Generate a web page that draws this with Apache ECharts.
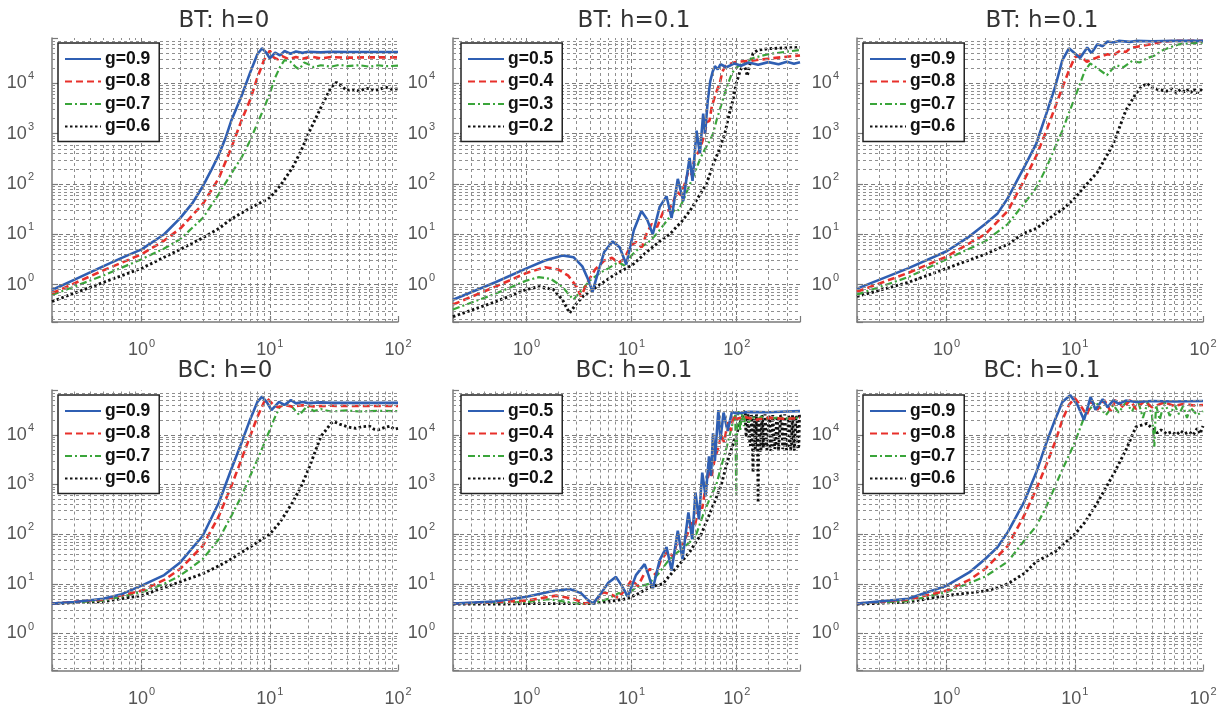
<!DOCTYPE html>
<html><head><meta charset="utf-8">
<script src="https://cdn.jsdelivr.net/npm/echarts@6/dist/echarts.min.js"></script>
<style>html,body{margin:0;padding:0;background:#fff}#c{width:1225px;height:708px}</style>
</head><body><div id="c"></div>
<script>
// ---------- panel titles / legends ----------
const titles = ['BT: h=0', 'BT: h=0.1', 'BT: h=0.1', 'BC: h=0', 'BC: h=0.1', 'BC: h=0.1'];
const namesHigh = ['g=0.9', 'g=0.8', 'g=0.7', 'g=0.6'];
const namesLow = ['g=0.5', 'g=0.4', 'g=0.3', 'g=0.2'];
const xMaxs = [100, 400, 100, 100, 400, 100];
const yMin = 0.18, yMax = 80000, xMin = 0.2;

// ---------- BT: h=0 ----------
const bt0_g09 = [[0.2,0.78],[0.3,1.25],[0.5,2.3],[0.7,3.4],[1,5.0],[1.5,10],[2,21],[2.5,42],[3,90],[3.5,190],[4,380],[4.5,800],[5,1800],[6,5500],[7,16000],[8,38000],[8.7,50000],[9.3,42000],[10,31600],[11,41000],[12,36000],[13,44000],[14.5,39000],[16,43000],[18,40500],[20,42500],[25,41500],[30,42500],[40,42000],[60,42000],[100,42000]];
const bt0_g08 = [[0.2,0.67],[0.5,1.9],[1,4],[1.5,7.5],[2,13],[3,40],[4,130],[5,520],[6,1800],[7,4600],[8,13000],[9,29000],[10,45000],[10.7,33000],[11.5,30000],[12.5,35000],[14,30500],[16,33500],[18,31000],[21,34000],[25,31500],[30,33500],[40,32500],[60,33000],[100,33000]];
const bt0_g07 = [[0.2,0.62],[0.5,1.5],[1,3.2],[1.5,5.2],[2,8],[3,21],[4,63],[5,160],[6,330],[7,720],[8,1600],[9,3200],[10,6300],[11,13000],[12,21000],[13,29000],[14.5,27000],[16,21000],[17,19000],[18.5,26000],[20,24000],[22,21000],[25,23000],[30,21500],[35,23500],[40,22000],[50,23000],[60,21500],[70,23000],[80,22000],[100,22500]];
const bt0_g06 = [[0.2,0.46],[0.5,1.1],[1,2.1],[2,5],[3,8.5],[4,13],[5,20],[7,33],[10,53],[12,91],[15,210],[17.5,450],[20,1000],[25,3300],[30,8300],[33,10500],[36,9000],[40,7200],[45,7600],[50,7000],[55,7800],[60,8000],[65,7300],[70,7500],[80,8400],[90,7600],[100,7800]];

// ---------- BT: h=0.1 (g=0.5..0.2) ----------
const bt1a_g05 = [[0.2,0.5],[0.5,1.1],[1,2.1],[1.5,3],[2.2,3.8],[2.8,3.5],[3.4,2.3],[3.9,1.2],[4.25,0.72],[4.7,1.5],[5.5,4.5],[6.6,7.2],[7.7,5.5],[8.9,2.5],[10.5,12],[12.4,29],[14,20],[15.9,10],[18.5,35],[21.5,57],[24,21],[27.5,126],[31,46],[35.6,330],[38,115],[41.5,1150],[44.6,400],[48,2500],[50,1000],[53,4500],[56,11000],[59,17000],[62,22000],[66,19000],[70,24000],[80,21000],[95,25000],[110,22500],[130,26000],[160,23500],[200,26500],[250,24000],[300,27000],[350,24500],[400,26500]];
const bt1a_g04 = [[0.2,0.4],[0.5,0.9],[1,1.7],[1.5,2.2],[2,2.0],[2.5,1.5],[3,0.9],[3.3,0.58],[3.8,1.1],[4.5,2],[5.5,3],[6.5,3.4],[7.5,2.7],[8.5,3.2],[9.8,6],[11,7],[12.5,5.5],[13.8,10],[15.5,16],[17.5,14],[20,28],[22.5,30],[25,45],[27,70],[29.5,60],[32,100],[34.5,170],[37,150],[40,350],[43,420],[46,600],[49.6,1000],[52,1700],[55,1800],[58,3500],[62,5500],[66,8000],[69,10000],[73,17000],[78,22000],[85,24000],[100,27000],[130,28000],[200,31000],[300,34000],[400,36000]];
const bt1a_g03 = [[0.2,0.32],[0.5,0.65],[1,1.2],[1.3,1.4],[1.7,1.3],[2.2,0.9],[2.8,0.5],[3.3,0.75],[4,1.2],[5,1.7],[6,2.1],[7.5,2.8],[8.5,2.4],[10,3.8],[12,5.5],[14,6.5],[17.2,10],[20,15],[23,22],[26,32],[28,30],[32,55],[36,100],[40,170],[45,320],[50,500],[55,700],[59.5,1000],[65,2000],[72,4000],[78,7000],[83,10000],[90,16000],[100,21000],[120,27000],[150,33000],[200,38000],[300,43000],[400,46000]];
const bt1a_g02 = [[0.2,0.23],[0.5,0.45],[1,0.8],[1.33,0.91],[1.8,0.8],[2.2,0.5],[2.57,0.27],[3,0.42],[3.5,0.6],[5,1],[7,1.6],[10.3,2.5],[14,4.5],[18.5,7.2],[23,10],[30,18],[35.8,29],[42,50],[51.5,100],[60,250],[70,550],[77,1000],[85,2500],[92,4600],[99,10000],[107,17000],[115,24000],[122,19000],[126,14000],[132,22000],[143,40000],[160,46000],[200,49000],[300,51000],[400,52000]];

// ---------- BT: h=0.1 (g=0.9..0.6) ----------
const bt1b_g09 = [[0.2,0.83],[0.5,2.1],[1,4.6],[1.5,9],[2,16],[2.5,26],[3,52],[3.5,110],[4,210],[5,630],[6,2500],[7,8300],[8,29000],[9,50000],[11,32000],[12.5,52000],[13.5,40000],[15,60000],[16.5,55000],[18,68000],[20,65000],[22,70000],[27,67000],[30,70000],[40,69000],[60,70000],[100,70000]];
const bt1b_g08 = [[0.2,0.72],[0.5,1.7],[1,3.6],[2,10],[3,29],[4,115],[5,360],[6,1150],[7,3300],[8,8300],[9,18000],[10,33000],[11,36000],[12.4,27000],[15,33000],[18,38000],[20,36000],[22.6,45000],[25,42000],[27,50000],[32,55000],[39,60000],[48,68000],[60,70000],[100,70000]];
const bt1b_g07 = [[0.2,0.63],[0.5,1.4],[1,3.2],[2,7.2],[3,16],[4,40],[5,83],[6,210],[7,530],[8,1150],[9,2600],[10,5200],[11,10000],[12,18000],[13.2,25000],[15,20000],[17.8,14500],[19.5,19000],[21,23000],[24,21000],[28,28000],[32,26000],[37,32000],[42,36000],[48,45000],[55,52000],[65,60000],[80,63000],[100,65000]];
const bt1b_g06 = [[0.2,0.58],[0.5,1.1],[1,2.1],[2,4],[3,6.3],[4,10.5],[5,13],[7,25],[8,31],[10,52],[12,91],[15,170],[20,630],[25,2900],[30,6300],[33,8500],[36.6,10000],[40,8200],[44,7600],[47,7400],[52,7000],[57,7800],[62,6600],[67,7600],[72,6800],[75,7400],[80,6500],[85,7800],[90,6400],[95,7500],[100,7000]];

// ---------- BC: h=0 ----------
const bc0_g09 = [[0.2,4],[0.3,4.3],[0.5,5],[0.7,6.2],[1,9.2],[1.5,15],[2,27],[3,93],[4,430],[5,2000],[6,6800],[7,20000],[8,46000],[8.7,59000],[9.5,45000],[10.3,31600],[11.8,46000],[13,40000],[14.6,50000],[16,43000],[18,46000],[20,43500],[25,45000],[30,44000],[50,44000],[100,44000]];
const bc0_g08 = [[0.2,4],[0.5,4.8],[1,7.3],[1.5,12],[2,20],[3,58],[4,230],[5,920],[6,3160],[7,9200],[8,23000],[9,45000],[9.5,55000],[10.5,42000],[11.5,36000],[13,40000],[15,37000],[18,39500],[22,37500],[30,38500],[50,38000],[100,38000]];
const bc0_g07 = [[0.2,4],[0.5,4.6],[1,6.8],[1.5,10],[2,14.7],[3,31.6],[4,79],[5,230],[6,580],[7,1450],[8,3160],[9,6500],[10,12600],[11,23000],[12,37000],[13.5,44000],[15,36000],[17,25000],[19.6,38000],[22,30000],[25,33000],[30,29500],[40,31000],[50,29500],[70,30500],[100,30000]];
const bc0_g06 = [[0.2,4],[0.5,4.4],[1,5.8],[2,11],[3,16],[4,23],[5,31.6],[7,55],[10,100],[12,174],[15,430],[17.5,900],[20,2000],[25,9200],[30,17000],[31.5,18500],[35,16500],[39,15000],[43,14000],[47,13500],[52,14500],[60,15000],[65,13000],[70,12600],[78,14000],[87,15000],[93,13000],[100,13500]];

// ---------- BC: h=0.1 (g=0.5..0.2) ----------
const bc1a_g05 = [[0.2,4],[0.5,4.4],[1,5.5],[1.7,7],[2.57,7.9],[3.3,6.5],[3.8,4.8],[4.3,4],[5,6],[6,10.5],[7.1,13.8],[8.1,9],[9.2,5.5],[11,15],[13.3,25],[14.5,15],[15.9,7.9],[18.5,30],[21.5,55],[24,18.5],[27.5,117],[30.5,31.6],[34.7,275],[37.7,79],[40.5,690],[43.7,200],[47,1740],[50.6,580],[54.5,3700],[57,1500],[59.5,10800],[62,3000],[66.9,31600],[70,8000],[75,28000],[82,12000],[90,29000],[100,27000],[130,29000],[200,28500],[300,29500],[400,30000]];
const bc1a_g04 = [[0.2,4],[0.5,4.3],[1,4.6],[1.92,5.8],[2.8,5],[3.6,4],[4.5,4.5],[5.4,6.8],[6.5,6],[7.5,5.2],[8.8,8],[10,12],[11.5,9],[13,15],[15,20],[17,15],[19,30],[22,45],[25,35],[27,70],[30,60],[34,100],[37,170],[40,150],[44,380],[47,330],[51,1000],[55,1800],[58,1500],[62,3500],[66,5000],[71.5,10000],[76,7000],[82,18000],[88,12000],[93,25000],[100,21000],[120,23000],[150,20000],[200,22000],[300,21000],[400,22000]];
const bc1a_g03 = [[0.2,4],[0.5,4.2],[1,4.3],[1.6,4.9],[2.5,4.3],[3.3,3.9],[4.5,4.2],[6,5],[7.5,6.5],[9,6],[11,8.5],[14.6,10],[18,16],[22,28],[26,40],[30,50],[36,70],[41.3,100],[48,250],[55,500],[64,1000],[72,2500],[80,5500],[86,10000],[92,18000],[97,25000],[99,630],[101,18000],[104,30000],[108,12000],[112,28000],[117,15000],[122,26000],[130,18000],[140,24000],[155,20000],[170,23000],[200,21000],[250,22500],[300,21500],[400,22000]];
const bc1a_g02 = [[0.2,3.9],[0.5,3.9],[1,4],[2,4],[3,4],[4,4],[5,4.2],[7,4.6],[8.9,5],[11,6],[13.8,7.9],[16,9],[19.8,10],[25,18],[30,28],[36,45],[41,70],[46,100],[55,250],[63,500],[71.5,1000],[80,2500],[90,5500],[99,10000],[110,20000],[116,26000],[120,31000],[123,9000],[125,12000],[128,27000],[130,25000],[133,7000],[135,6000],[138,25000],[140,22000],[141.5,6000],[143,1740],[145,24000],[147,20000],[150,5000],[152,8000],[154,26000],[156,24000],[158,6000],[160,430],[162,22000],[164,18000],[167,4500],[170,5000],[173,25000],[176,22000],[179,5500],[182,7000],[186,26000],[190,24000],[194,5000],[198,6000],[202,24000],[206,21000],[210,4800],[215,5500],[220,25000],[225,23000],[230,5200],[235,6500],[240,24000],[245,20000],[250,5000],[256,5000],[262,25000],[268,22000],[274,5200],[280,6000],[286,26000],[292,24000],[298,5000],[305,5500],[311,24000],[318,21000],[325,5000],[332,6500],[339,25000],[346,23000],[353,4800],[360,5000],[367,24000],[375,20000],[382,5200],[390,6000],[395,25000],[400,22000]];

// ---------- BC: h=0.1 (g=0.9..0.6) ----------
const bc1b_g09 = [[0.2,4],[0.5,5],[1,9.2],[1.5,17],[2,31.6],[2.5,55],[3,110],[4,430],[5,1740],[6,6900],[7,20000],[8,46000],[9.2,63000],[10.5,40000],[11.8,20000],[13.3,58000],[14.5,32000],[16.5,52000],[18,36000],[20,50000],[22,42000],[25,49000],[30,46000],[40,48000],[60,47000],[100,48000]];
const bc1b_g08 = [[0.2,4],[0.5,4.8],[1,7.3],[1.5,12],[2,20],[3,58],[4,230],[5,800],[6,2500],[7,7000],[8,20000],[9,40000],[10,55000],[11,40000],[12.4,25000],[13.5,48000],[15,32000],[17,50000],[19,30000],[21,52000],[24,35000],[27,50000],[30,33000],[35,48000],[40,36000],[50,45000],[60,38000],[70,42000],[85,39000],[100,40000]];
const bc1b_g07 = [[0.2,4],[0.5,4.5],[1,6.8],[2,14],[3,28],[4,72],[5,145],[6,360],[7,910],[8,2000],[10,7000],[12,25000],[14.5,46000],[17.5,25000],[20,40000],[22,28000],[25,45000],[28,30000],[31,50000],[34,22000],[37,45000],[40,25000],[41.7,5800],[43,40000],[46,20000],[50,48000],[55,24000],[60,40000],[65,26000],[70,38000],[75,22000],[80,35000],[90,25000],[100,30000]];
const bc1b_g06 = [[0.2,3.9],[0.5,4.3],[1,5.8],[2,7.2],[2.5,8.3],[3,10],[4,16],[5,28],[7,44],[10,100],[12,174],[15,430],[20,1600],[25,4900],[30,14500],[36.6,17000],[40,13500],[44,11000],[47,12600],[52,10500],[57,11500],[62,10000],[67,12000],[72,10500],[78,11500],[84,10000],[90,13500],[95,10500],[100,15000]];

const panelData = [
  [bt0_g09, bt0_g08, bt0_g07, bt0_g06],
  [bt1a_g05, bt1a_g04, bt1a_g03, bt1a_g02],
  [bt1b_g09, bt1b_g08, bt1b_g07, bt1b_g06],
  [bc0_g09, bc0_g08, bc0_g07, bc0_g06],
  [bc1a_g05, bc1a_g04, bc1a_g03, bc1a_g02],
  [bc1b_g09, bc1b_g08, bc1b_g07, bc1b_g06]
];
const panelNames = [namesHigh, namesLow, namesHigh, namesHigh, namesLow, namesHigh];

// ---------- layout & styles ----------
const gridBoxes = [
  {left: 52, top: 38, width: 346, height: 284},
  {left: 453, top: 38, width: 347, height: 284},
  {left: 857, top: 38, width: 346, height: 284},
  {left: 52, top: 390, width: 346, height: 281},
  {left: 453, top: 390, width: 347, height: 281},
  {left: 857, top: 390, width: 346, height: 281}
];
const titlePos = [[224, 10], [634, 10], [1042, 10], [225, 360], [634, 360], [1042, 360]];
const legendPos = [[58, 43], [461, 43], [863, 43], [58, 395], [461, 395], [863, 395]];
const lineStyles = [
  {color: '#2f5fb3', width: 2.6, type: 'solid'},
  {color: '#e8302b', width: 2.6, type: [7, 4]},
  {color: '#3aa53a', width: 2.2, type: [7, 3, 2, 3]},
  {color: '#111111', width: 2.9, type: [2.5, 2.5]}
];
const FONT = 'Liberation Sans, Arial, sans-serif';

function powLabel(v) {
  const e = Math.log10(v);
  const r = Math.round(e);
  if (Math.abs(e - r) > 1e-6) return '';
  return '{b|10}{s|' + r + '}';
}
const richLab = {
  b: {fontSize: 18, color: '#555555', fontFamily: FONT},
  s: {fontSize: 11, color: '#555555', fontFamily: FONT, padding: [0, 0, 14, 1]}
};
function gridValues(min, max) {
  const out = [];
  for (let e = -2; e <= 6; e++) {
    for (let m = 1; m <= 9; m++) {
      const v = +(m * Math.pow(10, e)).toPrecision(6);
      if (v > min * 1.0001 && v < max * 0.9999) out.push({v: v, major: m === 1});
    }
  }
  return out;
}
const majorLS = {color: '#7c7c7c', width: 1, type: [4, 3]};
const minorLS = {color: '#8f8f8f', width: 1, type: [3, 3]};

const option = {
  animation: false,
  backgroundColor: '#ffffff',
  title: [], grid: [], xAxis: [], yAxis: [], legend: [], series: []
};

for (let i = 0; i < 6; i++) {
  option.title.push({
    text: titles[i], left: titlePos[i][0], top: titlePos[i][1], textAlign: 'center', padding: 0,
    textStyle: {fontSize: 23, fontWeight: 'normal', color: '#333', fontFamily: 'DejaVu Sans, sans-serif'}
  });
  option.grid.push(Object.assign({containLabel: false}, gridBoxes[i]));
  option.xAxis.push({
    type: 'log', gridIndex: i, min: xMin, max: xMaxs[i], logBase: 10,
    axisLine: {show: true, lineStyle: {color: '#7a7a7a', width: 1.5}},
    axisTick: {show: true, inside: true, length: 6, lineStyle: {color: '#7a7a7a', width: 1.2}},
    splitLine: {show: false},
    axisLabel: {formatter: powLabel, rich: richLab, margin: 16, showMinLabel: true, showMaxLabel: true, hideOverlap: false}
  });
  option.yAxis.push({
    type: 'log', gridIndex: i, min: yMin, max: yMax, logBase: 10,
    axisLine: {show: true, lineStyle: {color: '#7a7a7a', width: 1.5}},
    axisTick: {show: true, inside: true, length: 6, lineStyle: {color: '#7a7a7a', width: 1.2}},
    splitLine: {show: false},
    axisLabel: {formatter: powLabel, rich: richLab, margin: 18, hideOverlap: false}
  });
  // grid lines (major + minor) as mark lines on a dataless series
  const gl = [];
  gridValues(xMin, xMaxs[i]).forEach(g => gl.push({xAxis: g.v, lineStyle: g.major ? majorLS : minorLS}));
  gridValues(yMin, yMax).forEach(g => gl.push({yAxis: g.v, lineStyle: g.major ? majorLS : minorLS}));
  option.series.push({
    type: 'line', name: '_grid' + i, xAxisIndex: i, yAxisIndex: i, data: [], z: 1, silent: true,
    markLine: {silent: true, symbol: ['none', 'none'], label: {show: false}, animation: false,
      emphasis: {disabled: true}, data: gl}
  });
  const names = panelNames[i];
  for (let k = 0; k < 4; k++) {
    option.series.push({
      type: 'line', name: names[k], xAxisIndex: i, yAxisIndex: i, data: panelData[i][k],
      symbol: 'none', showSymbol: false, z: 3 + (3 - k) * 0.01, silent: true,
      lineStyle: lineStyles[k], itemStyle: {color: lineStyles[k].color},
      emphasis: {disabled: true}
    });
  }
  option.legend.push({
    data: names, orient: 'vertical', left: legendPos[i][0], top: legendPos[i][1],
    itemWidth: 36, itemHeight: 14, itemGap: 4.5, padding: [7, 9, 6, 6],
    backgroundColor: '#ffffff', borderColor: '#222', borderWidth: 1.5, borderRadius: 0,
    selectedMode: false, z: 10,
    itemStyle: {opacity: 0},
    textStyle: {fontSize: 17.5, fontWeight: 'bold', color: '#111', fontFamily: FONT, padding: [0, 0, 0, -1]}
  });
}

const chart = echarts.init(document.getElementById('c'), null, {renderer: 'canvas'});
chart.setOption(option);
</script></body></html>
